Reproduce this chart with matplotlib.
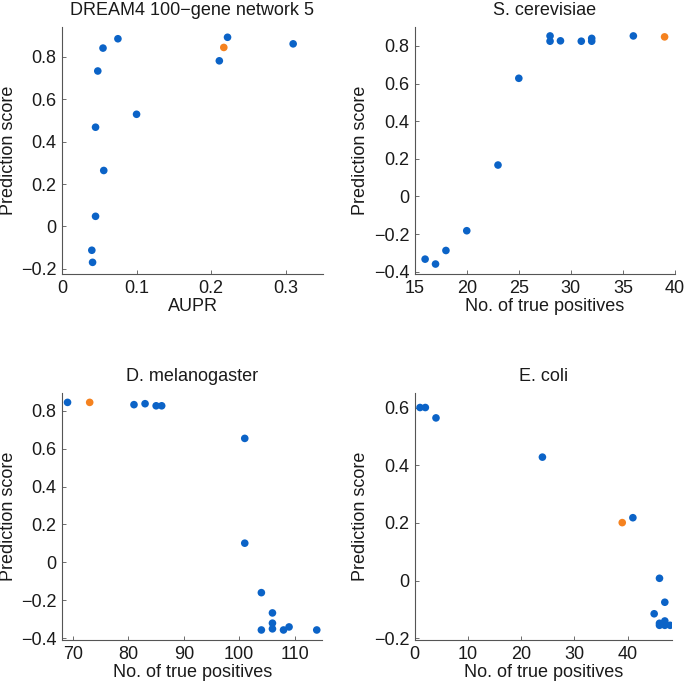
import matplotlib
matplotlib.use('Agg')
import matplotlib.pyplot as plt

plt.rcParams['font.family'] = ['Liberation Sans', 'DejaVu Sans']

BLUE = '#0b63c7'
ORANGE = '#f5821f'

# DREAM4 100-gene network 5 (AUPR vs score)
dream_x = [0.075, 0.055, 0.048, 0.100, 0.045, 0.056, 0.045, 0.040, 0.041, 0.222, 0.211, 0.310]
dream_y = [0.885, 0.841, 0.733, 0.529, 0.468, 0.264, 0.048, -0.112, -0.169, 0.892, 0.781, 0.861]
dream_hl = (0.217, 0.844)

# S. cerevisiae
yeast_x = [16, 17, 18, 20, 23, 25, 28, 28, 29, 31, 32, 32, 36]
yeast_y = [-0.333, -0.359, -0.287, -0.182, 0.167, 0.628, 0.853, 0.825, 0.827, 0.825, 0.840, 0.825, 0.853]
yeast_hl = (39, 0.848)

# D. melanogaster
fly_x = [69, 81, 83, 85, 86, 101, 101, 104, 104, 106, 106, 106, 108, 109, 114]
fly_y = [0.844, 0.832, 0.837, 0.826, 0.826, 0.654, 0.101, -0.160, -0.357, -0.267, -0.321, -0.351, -0.357, -0.341, -0.357]
fly_hl = (73, 0.844)

# E. coli
ecoli_x = [1, 2, 4, 24, 41, 46, 45, 47, 46, 46, 47, 47, 48]
ecoli_y = [0.600, 0.600, 0.564, 0.428, 0.218, 0.008, -0.115, -0.075, -0.148, -0.155, -0.140, -0.155, -0.155]
ecoli_hl = (39, 0.201)

panels = [
    ('DREAM4 100\u2212gene network 5', 'AUPR', dream_x, dream_y, dream_hl,
     (0, 0.35), (-0.224, 0.94), [0, 0.1, 0.2, 0.3], [-0.2, 0, 0.2, 0.4, 0.6, 0.8]),
    ('S. cerevisiae', 'No. of true positives', yeast_x, yeast_y, yeast_hl,
     (15, 40), (-0.412, 0.9), [15, 20, 25, 30, 35, 40], [-0.4, -0.2, 0, 0.2, 0.4, 0.6, 0.8]),
    ('D. melanogaster', 'No. of true positives', fly_x, fly_y, fly_hl,
     (68, 115), (-0.41, 0.893), [70, 80, 90, 100, 110], [-0.4, -0.2, 0, 0.2, 0.4, 0.6, 0.8]),
    ('E. coli', 'No. of true positives', ecoli_x, ecoli_y, ecoli_hl,
     (0, 48.4), (-0.206, 0.65), [0, 10, 20, 30, 40], [-0.2, 0, 0.2, 0.4, 0.6]),
]

# axes rectangles (fig fraction)
rects = [
    [0.0905, 0.5994, 0.381, 0.361],
    [0.6054, 0.5994, 0.380, 0.361],
    [0.0905, 0.0643, 0.380, 0.361],
    [0.6054, 0.0643, 0.376, 0.361],
]

def fmt(v):
    if abs(v) < 1e-9:
        return '0'
    s = ('%g' % v)
    return s.replace('-', '\u2212')

fig = plt.figure(figsize=(6.85, 6.84), dpi=100)
for rect, (title, xlabel, xs, ys, hl, xlim, ylim, xt, yt) in zip(rects, panels):
    ax = fig.add_axes(rect)
    ax.scatter(xs, ys, s=30, color=BLUE, edgecolors='none', zorder=3)
    ax.scatter([hl[0]], [hl[1]], s=30, color=ORANGE, edgecolors='none', zorder=3)
    ax.set_xlim(*xlim)
    ax.set_ylim(*ylim)
    ax.set_xticks(xt)
    ax.set_xticklabels([fmt(v) for v in xt])
    ax.set_yticks(yt)
    ax.set_yticklabels([fmt(v) for v in yt])
    for s in ['top', 'right']:
        ax.spines[s].set_visible(False)
    for s in ['left', 'bottom']:
        ax.spines[s].set_color('#555555')
        ax.spines[s].set_linewidth(0.8)
    ax.tick_params(direction='in', length=3, width=0.6, color='#555555',
                   labelsize=13, labelcolor='#1a1a1a', pad=4)
    ax.set_title(title, fontsize=13, color='#1a1a1a', pad=9)
    ax.set_xlabel(xlabel, fontsize=13, color='#1a1a1a', labelpad=1)
    ax.set_ylabel('Prediction score', fontsize=13, color='#1a1a1a', labelpad=3)

fig.savefig('out.png', dpi=100)
